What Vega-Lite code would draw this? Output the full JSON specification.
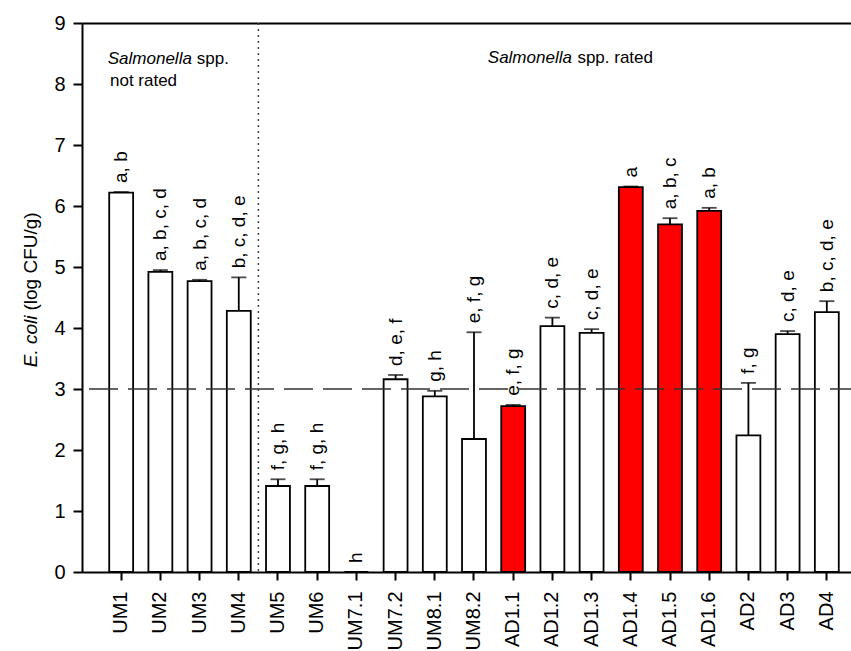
{
  "$schema": "https://vega.github.io/schema/vega-lite/v6.json",
  "width": 769,
  "height": 549,
  "autosize": {"type": "none"},
  "padding": {"left": 82, "top": 23, "right": 0, "bottom": 79},
  "background": "white",
  "config": {
    "view": {"stroke": null},
    "font": "Liberation Sans",
    "axis": {
      "grid": false,
      "domainColor": "black",
      "tickColor": "black",
      "labelColor": "black",
      "titleColor": "black",
      "labelFont": "Liberation Sans",
      "titleFont": "Liberation Sans"
    }
  },
  "datasets": {
    "counts": [
      {"cat": "UM1", "mean": 6.22, "upper": 6.23, "label": "a, b", "group": "plain"},
      {"cat": "UM2", "mean": 4.92, "upper": 4.95, "label": "a, b, c, d", "group": "plain"},
      {"cat": "UM3", "mean": 4.77, "upper": 4.79, "label": "a, b, c, d", "group": "plain"},
      {"cat": "UM4", "mean": 4.28, "upper": 4.83, "label": "b, c, d, e", "group": "plain"},
      {"cat": "UM5", "mean": 1.41, "upper": 1.52, "label": "f, g, h", "group": "plain"},
      {"cat": "UM6", "mean": 1.41, "upper": 1.52, "label": "f, g, h", "group": "plain"},
      {"cat": "UM7.1", "mean": 0, "upper": 0, "label": "h", "group": "plain"},
      {"cat": "UM7.2", "mean": 3.16, "upper": 3.23, "label": "d, e, f", "group": "plain"},
      {"cat": "UM8.1", "mean": 2.88, "upper": 2.97, "label": "g, h", "group": "plain"},
      {"cat": "UM8.2", "mean": 2.18, "upper": 3.93, "label": "e, f, g", "group": "plain"},
      {"cat": "AD1.1", "mean": 2.72, "upper": 2.74, "label": "e, f, g", "group": "marked"},
      {"cat": "AD1.2", "mean": 4.03, "upper": 4.17, "label": "c, d, e", "group": "plain"},
      {"cat": "AD1.3", "mean": 3.92, "upper": 3.98, "label": "c, d, e", "group": "plain"},
      {"cat": "AD1.4", "mean": 6.31, "upper": 6.32, "label": "a", "group": "marked"},
      {"cat": "AD1.5", "mean": 5.70, "upper": 5.80, "label": "a, b, c", "group": "marked"},
      {"cat": "AD1.6", "mean": 5.92, "upper": 5.97, "label": "a, b", "group": "marked"},
      {"cat": "AD2", "mean": 2.24, "upper": 3.10, "label": "f, g", "group": "plain"},
      {"cat": "AD3", "mean": 3.90, "upper": 3.95, "label": "c, d, e", "group": "plain"},
      {"cat": "AD4", "mean": 4.26, "upper": 4.44, "label": "b, c, d, e", "group": "plain"}
    ],
    "notes": [
      {"part": "left_italic", "cat": "UM3", "y": 8.32, "txt": "Salmonella"},
      {"part": "left_plain", "cat": "UM3", "y": 8.32, "txt": "spp."},
      {"part": "left_second", "cat": "UM1", "y": 7.97, "txt": "not rated"},
      {"part": "right_italic", "cat": "AD1.2", "y": 8.35, "txt": "Salmonella"},
      {"part": "right_plain", "cat": "AD1.2", "y": 8.35, "txt": "spp. rated"}
    ]
  },
  "layer": [
    {
      "data": {"name": "counts"},
      "mark": {"type": "bar", "stroke": "black", "strokeWidth": 1.8},
      "encoding": {
        "x": {
          "field": "cat", "type": "nominal", "sort": null,
          "scale": {"domain": ["UM1","UM2","UM3","UM4","UM5","UM6","UM7.1","UM7.2","UM8.1","UM8.2","AD1.1","AD1.2","AD1.3","AD1.4","AD1.5","AD1.6","AD2","AD3","AD4"], "paddingInner": 0.39, "paddingOuter": 0.503, "align": 0.69},
          "axis": {"orient": "bottom", "title": null, "labelAngle": 270, "labelAlign": "right", "labelBaseline": "middle", "labelFontSize": 20, "labelPadding": 11, "tickSize": 8, "tickWidth": 2, "domainWidth": 2, "labelOverlap": false}
        },
        "y": {
          "field": "mean", "type": "quantitative",
          "scale": {"domain": [0, 9], "nice": false},
          "axis": {"orient": "left", "values": [0,1,2,3,4,5,6,7,8,9], "labelFontSize": 20, "labelPadding": 8, "tickSize": 9, "tickWidth": 2, "domainWidth": 2, "labelFlush": false,
                   "title": "(log CFU/g)", "titleColor": "black", "titleFontSize": 19, "titleFontWeight": "normal", "titleAngle": 270, "titleAlign": "left", "titleBaseline": "alphabetic", "titleX": -46, "titleY": 287}
        },
        "fill": {"field": "group", "type": "nominal", "scale": {"domain": ["plain", "marked"], "range": ["#ffffff", "#ff0000"]}, "legend": null}
      }
    },
    {
      "data": {"name": "counts"},
      "mark": {"type": "rule", "color": "black", "strokeWidth": 1.8},
      "encoding": {
        "x": {"field": "cat", "type": "nominal", "sort": null, "axis": null,
              "scale": {"domain": ["UM1","UM2","UM3","UM4","UM5","UM6","UM7.1","UM7.2","UM8.1","UM8.2","AD1.1","AD1.2","AD1.3","AD1.4","AD1.5","AD1.6","AD2","AD3","AD4"], "paddingInner": 0.39, "paddingOuter": 0.503, "align": 0.69}},
        "y": {"field": "mean", "type": "quantitative", "axis": null, "scale": {"domain": [0, 9], "nice": false}},
        "y2": {"field": "upper"}
      }
    },
    {
      "data": {"name": "counts"},
      "mark": {"type": "tick", "color": "black", "size": 15, "thickness": 1.8},
      "encoding": {
        "x": {"field": "cat", "type": "nominal", "sort": null, "axis": null,
              "scale": {"domain": ["UM1","UM2","UM3","UM4","UM5","UM6","UM7.1","UM7.2","UM8.1","UM8.2","AD1.1","AD1.2","AD1.3","AD1.4","AD1.5","AD1.6","AD2","AD3","AD4"], "paddingInner": 0.39, "paddingOuter": 0.503, "align": 0.69}},
        "y": {"field": "upper", "type": "quantitative", "axis": null, "scale": {"domain": [0, 9], "nice": false}}
      }
    },
    {
      "data": {"name": "counts"},
      "mark": {"type": "text", "angle": 270, "align": "left", "baseline": "middle", "fontSize": 19, "yOffset": -9, "color": "black", "font": "Liberation Sans"},
      "encoding": {
        "x": {"field": "cat", "type": "nominal", "sort": null, "axis": null,
              "scale": {"domain": ["UM1","UM2","UM3","UM4","UM5","UM6","UM7.1","UM7.2","UM8.1","UM8.2","AD1.1","AD1.2","AD1.3","AD1.4","AD1.5","AD1.6","AD2","AD3","AD4"], "paddingInner": 0.39, "paddingOuter": 0.503, "align": 0.69}},
        "y": {"field": "upper", "type": "quantitative", "axis": null, "scale": {"domain": [0, 9], "nice": false}},
        "text": {"field": "label"}
      }
    },
    {
      "data": {"values": [{}]},
      "mark": {"type": "rule", "color": "#333333", "strokeWidth": 1.6, "strokeDash": [29, 10], "strokeDashOffset": 8},
      "encoding": {
        "y": {"datum": 3, "type": "quantitative", "scale": {"domain": [0, 9], "nice": false},
              "axis": {"orient": "left", "labels": false, "ticks": false, "domain": false,
                       "title": "E. coli", "titleColor": "black", "titleFontStyle": "italic", "titleFontSize": 19, "titleFontWeight": "normal",
                       "titleAngle": 270, "titleAlign": "right", "titleBaseline": "alphabetic", "titleX": -46, "titleY": 292}}
      }
    },
    {
      "data": {"values": [{}]},
      "mark": {"type": "rule", "color": "#444444", "strokeWidth": 1.5, "strokeDash": [2, 4], "xOffset": -19.6},
      "encoding": {
        "x": {"datum": "UM5", "type": "nominal",
              "scale": {"domain": ["UM1","UM2","UM3","UM4","UM5","UM6","UM7.1","UM7.2","UM8.1","UM8.2","AD1.1","AD1.2","AD1.3","AD1.4","AD1.5","AD1.6","AD2","AD3","AD4"], "paddingInner": 0.39, "paddingOuter": 0.503, "align": 0.69},
              "axis": {"orient": "top", "labels": false, "ticks": false, "domain": true, "domainWidth": 2, "title": null}}
      }
    },
    {
      "data": {"name": "notes"},
      "transform": [{"filter": "datum.part === 'left_italic'"}],
      "mark": {"type": "text", "align": "right", "baseline": "alphabetic", "fontSize": 17, "fontStyle": "italic", "dx": -7.7, "color": "black"},
      "encoding": {
        "x": {"field": "cat", "type": "nominal", "axis": null, "sort": null,
              "scale": {"domain": ["UM1","UM2","UM3","UM4","UM5","UM6","UM7.1","UM7.2","UM8.1","UM8.2","AD1.1","AD1.2","AD1.3","AD1.4","AD1.5","AD1.6","AD2","AD3","AD4"], "paddingInner": 0.39, "paddingOuter": 0.503, "align": 0.69}},
        "y": {"field": "y", "type": "quantitative", "axis": null, "scale": {"domain": [0, 9], "nice": false}},
        "text": {"field": "txt"}
      }
    },
    {
      "data": {"name": "notes"},
      "transform": [{"filter": "datum.part === 'left_plain'"}],
      "mark": {"type": "text", "align": "left", "baseline": "alphabetic", "fontSize": 17, "dx": -2.7, "color": "black"},
      "encoding": {
        "x": {"field": "cat", "type": "nominal", "axis": null, "sort": null,
              "scale": {"domain": ["UM1","UM2","UM3","UM4","UM5","UM6","UM7.1","UM7.2","UM8.1","UM8.2","AD1.1","AD1.2","AD1.3","AD1.4","AD1.5","AD1.6","AD2","AD3","AD4"], "paddingInner": 0.39, "paddingOuter": 0.503, "align": 0.69}},
        "y": {"field": "y", "type": "quantitative", "axis": null, "scale": {"domain": [0, 9], "nice": false}},
        "text": {"field": "txt"}
      }
    },
    {
      "data": {"name": "notes"},
      "transform": [{"filter": "datum.part === 'left_second'"}],
      "mark": {"type": "text", "align": "left", "baseline": "alphabetic", "fontSize": 17, "dx": -11.2, "color": "black"},
      "encoding": {
        "x": {"field": "cat", "type": "nominal", "axis": null, "sort": null,
              "scale": {"domain": ["UM1","UM2","UM3","UM4","UM5","UM6","UM7.1","UM7.2","UM8.1","UM8.2","AD1.1","AD1.2","AD1.3","AD1.4","AD1.5","AD1.6","AD2","AD3","AD4"], "paddingInner": 0.39, "paddingOuter": 0.503, "align": 0.69}},
        "y": {"field": "y", "type": "quantitative", "axis": null, "scale": {"domain": [0, 9], "nice": false}},
        "text": {"field": "txt"}
      }
    },
    {
      "data": {"name": "notes"},
      "transform": [{"filter": "datum.part === 'right_italic'"}],
      "mark": {"type": "text", "align": "right", "baseline": "alphabetic", "fontSize": 17, "fontStyle": "italic", "dx": 19.5, "color": "black"},
      "encoding": {
        "x": {"field": "cat", "type": "nominal", "axis": null, "sort": null,
              "scale": {"domain": ["UM1","UM2","UM3","UM4","UM5","UM6","UM7.1","UM7.2","UM8.1","UM8.2","AD1.1","AD1.2","AD1.3","AD1.4","AD1.5","AD1.6","AD2","AD3","AD4"], "paddingInner": 0.39, "paddingOuter": 0.503, "align": 0.69}},
        "y": {"field": "y", "type": "quantitative", "axis": null, "scale": {"domain": [0, 9], "nice": false}},
        "text": {"field": "txt"}
      }
    },
    {
      "data": {"name": "notes"},
      "transform": [{"filter": "datum.part === 'right_plain'"}],
      "mark": {"type": "text", "align": "left", "baseline": "alphabetic", "fontSize": 17, "dx": 25, "color": "black"},
      "encoding": {
        "x": {"field": "cat", "type": "nominal", "axis": null, "sort": null,
              "scale": {"domain": ["UM1","UM2","UM3","UM4","UM5","UM6","UM7.1","UM7.2","UM8.1","UM8.2","AD1.1","AD1.2","AD1.3","AD1.4","AD1.5","AD1.6","AD2","AD3","AD4"], "paddingInner": 0.39, "paddingOuter": 0.503, "align": 0.69}},
        "y": {"field": "y", "type": "quantitative", "axis": null, "scale": {"domain": [0, 9], "nice": false}},
        "text": {"field": "txt"}
      }
    }
  ],
  "resolve": {"axis": {"x": "independent", "y": "independent"}}
}
